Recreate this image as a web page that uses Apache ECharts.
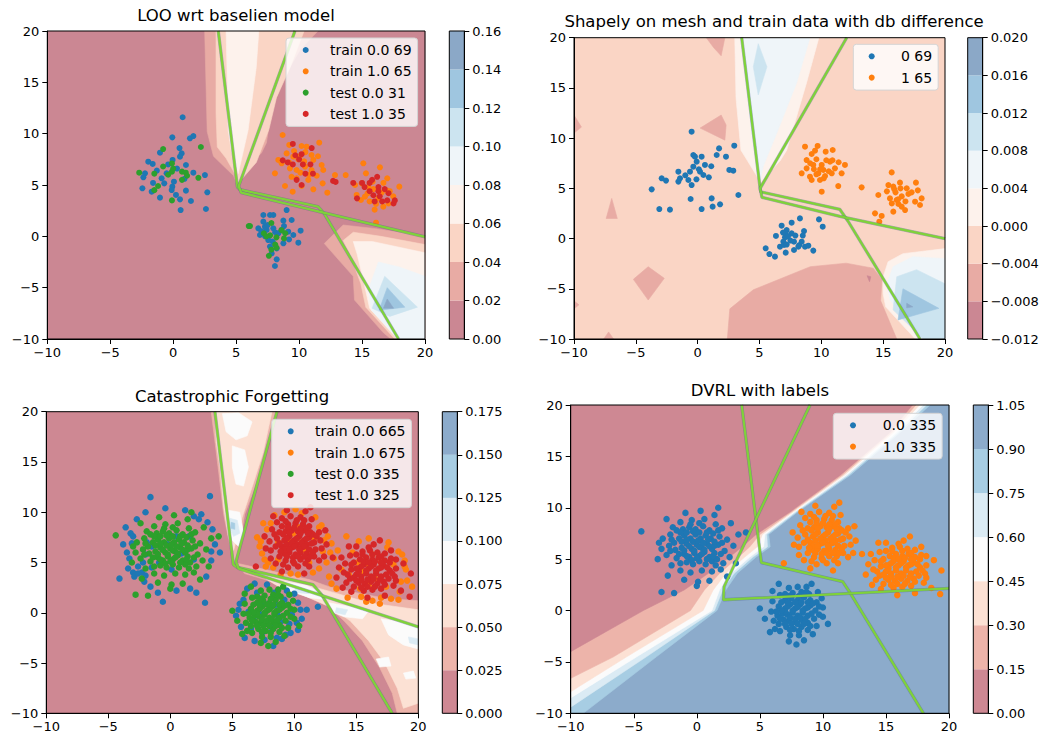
<!DOCTYPE html>
<html><head><meta charset="utf-8">
<script src="https://cdn.jsdelivr.net/npm/echarts@6.0.0/dist/echarts.min.js"></script>
<style>html,body{margin:0;padding:0;background:#fff}#c{width:1042px;height:736px}</style>
</head><body><div id="c"></div>
<script>
// ---------- axis ticks ----------
const mainTicks = [-10, -5, 0, 5, 10, 15, 20];
const tlLevels = [0, 0.02, 0.04, 0.06, 0.08, 0.10, 0.12, 0.14, 0.16];
const trLevels = [-0.012, -0.008, -0.004, 0, 0.004, 0.008, 0.012, 0.016, 0.020];
const blLevels = [0, 0.025, 0.05, 0.075, 0.1, 0.125, 0.15, 0.175];
const brLevels = [0, 0.15, 0.3, 0.45, 0.6, 0.75, 0.9, 1.05];
const tlStep = 0.02, trStep = 0.004, blStep = 0.025, brStep = 0.15;

// ---------- titles / legend labels ----------
const titles = ['LOO wrt baselien model', 'Shapely on mesh and train data with db difference', 'Catastrophic Forgetting', 'DVRL with labels'];
const tlNames = ['train 0.0 69', 'train 1.0 65', 'test 0.0 31', 'test 1.0 35'];
const trNames = ['0 69', '1 65'];
const blNames = ['train 0.0 665', 'train 1.0 675', 'test 0.0 335', 'test 1.0 325'];
const brNames = ['0.0 335', '1.0 335'];

// ---------- scatter data: top-left ----------
const tlTrain0 = [[0.75,11.6],[-0.07,9.64],[1.33,9.55],[1.6,9.77],[0.67,8.08],[0.54,7.76],[-1.05,8.15],[-1.98,7.27],[-1.63,7.05],[1.01,6.95],[2.52,5.97],[2.71,4.29],[2.6,2.66],[1.41,3.44],[0.54,3.6],[0.59,2.56],[-1.05,3.77],[-2.45,4.68],[-2.24,6.14],[-2.37,5.75],[-0.71,5.16],[-0.07,4.84],[-0.12,4.51],[0.22,4.03],[1.01,4.45],[-0.52,6.14],[-0.92,5.65],[-1.71,4.35],[-0.05,7.44],[0.06,5.32],
[0.3,6.6],[-1.3,6.4],[0.9,5.6],[-0.4,7.0],[1.6,6.2],[-1.6,5.2],[0.5,8.6],
[7.16,2.08],[7.69,2.08],[7.95,2.08],[9.01,2.56],[9.41,1.59],[8.75,1.53],[6.76,0.78],[7.16,1.43],[7.42,0.62],[7.95,0.78],[6.89,0.13],[8.35,0.29],[9.14,0.45],[9.54,0.13],[10.12,0.55],[9.94,-0.62],[7.69,-1.0],[8.22,-1.17],[7.82,-1.66],[8.22,-2.24],[8.08,-2.89],[7.55,-0.36],[8.75,-0.68],[7.29,0.94],[8.61,0.62],
[7.5,1.1],[8.1,0.4],[7.3,0.0],[8.8,1.0],[7.9,-0.5],[9.2,-0.3],[7.0,0.5]];
const tlTrain1 = [[8.69,9.87],[9.22,8.9],[10.2,8.8],[10.6,8.73],[11.6,9.12],[9.01,8.08],[9.54,7.76],[10.07,7.82],[10.99,7.92],[11.13,7.44],[8.35,7.44],[8.61,7.11],[9.94,7.5],[9.27,6.62],[9.8,6.46],[10.47,6.79],[10.99,6.46],[11.79,6.95],[11.92,6.46],[8.08,6.14],[12.85,5.97],[13.7,5.97],[11.87,5.16],[11.13,4.58],[10.2,4.9],[8.88,4.9],[9.49,4.35],[12.24,4.25],[9.8,5.65],[10.73,5.49],
[9.6,8.3],[10.4,7.3],[9.2,7.2],[10.8,6.0],[10.1,6.2],[11.5,7.8],[9.4,5.8],[10.5,8.2],[11.4,5.9],
[15.1,7.11],[16.42,6.72],[15.31,6.14],[14.44,5.0],[14.97,5.16],[15.84,5.32],[17.0,5.65],[17.96,4.84],[16.55,4.25],[15.44,4.19],[14.91,3.54],[14.57,4.03],[16.11,3.15],[16.11,1.33],[17.48,3.9],[16.95,4.48],[15.23,3.86],[16.69,2.89],
[15.9,4.6],[16.3,3.7],[15.6,3.4],[17.2,4.4],[16.7,5.2],[15.5,4.8],[17.1,3.2],[16.0,2.6]];
const tlTest0 = [[-0.8,8.5],[2.2,8.7],[-2.7,6.2],[-1.5,6.1],[-0.8,6.8],[-0.1,7.1],[0.0,6.6],[-0.1,6.3],[0.7,6.3],[1.1,5.9],[0.7,5.5],[2.0,5.7],[-1.2,4.9],[-1.5,4.5],[-0.1,3.5],[-0.4,6.0],[1.0,6.2],
[6.0,1.0],[6.1,1.0],[7.8,1.3],[7.2,0.3],[7.7,0.1],[8.2,-0.1],[8.9,0.3],[8.8,-0.2],[8.1,-0.8],[8.2,-1.1],[7.6,-1.9],[7.8,-1.3],[7.4,0.0],[8.6,0.6]];
const tlTest1 = [[9.5,9.0],[10.2,8.0],[11.0,8.6],[8.7,7.4],[9.1,7.2],[9.5,7.0],[10.3,7.0],[10.9,7.0],[10.5,6.1],[11.1,6.1],[9.8,5.5],[10.2,5.0],[12.7,5.4],[12.9,5.3],[10.0,7.5],[9.7,7.9],
[14.3,5.2],[15.0,5.2],[15.6,5.2],[16.2,5.8],[15.8,5.5],[15.2,4.8],[16.3,4.8],[16.8,4.6],[17.1,4.2],[14.6,3.7],[15.9,4.0],[16.4,3.9],[16.6,3.4],[17.0,3.5],[17.5,3.2],[17.6,3.5],[16.0,3.4],[16.3,4.4],[15.6,4.4]];

// ---------- scatter data: top-right ----------
const trClass0 = [[-0.49,10.64],[-0.35,8.32],[-0.22,8.15],[0.32,8.15],[1.73,8.98],[1.54,8.32],[2.29,8.15],[2.96,9.25],[-0.08,7.66],[0.59,7.33],[-0.35,7.16],[-0.62,6.66],[0.19,6.66],[0.46,6.33],[-1.56,6.66],[-1.43,6.0],[-0.75,5.83],[-0.49,5.33],[-2.91,6.0],[-2.56,5.77],[-1.56,5.67],[-3.72,4.9],[2.56,6.83],[2.88,6.76],[3.29,4.34],[-0.57,3.94],[1.13,4.0],[1.81,3.41],[1.21,3.18],[0.32,2.94],[-3.1,2.94],[-2.24,2.88],
[0.1,6.9],[-1.0,6.3],[1.1,7.2],[-0.1,5.9],[0.9,6.1],
[6.79,1.28],[7.6,1.58],[8.27,2.01],[9.81,1.91],[10.11,1.18],[7.2,0.85],[7.12,0.52],[8.6,0.75],[7.06,0.12],[7.6,0.52],[6.33,0.26],[7.79,-0.31],[6.93,-0.31],[8.41,-0.31],[8.22,-0.64],[8.68,-0.81],[8.95,-0.71],[9.35,-1.2],[5.5,-0.97],[5.8,-1.54],[6.25,-1.8],[7.12,-1.4],[7.79,-1.14],[8.14,-0.81],[6.66,-0.81],[6.98,-0.64],
[7.3,0.2],[7.5,-0.2],[7.9,0.3],[7.2,-0.6],[8.5,0.3],[6.9,0.6]];
const trClass1 = [[8.68,9.15],[9.7,9.22],[9.49,8.75],[9.22,8.42],[10.35,8.65],[10.92,8.82],[8.81,7.82],[9.35,7.33],[10.03,7.33],[10.7,7.66],[11.1,6.99],[11.91,7.33],[11.64,6.5],[8.41,6.5],[9.08,6.16],[9.76,6.5],[10.3,6.23],[10.84,6.5],[11.37,5.23],[10.03,4.67],[8.81,6.99],[10.16,6.83],[9.89,5.83],[9.22,5.83],
[15.69,6.59],[13.26,5.1],[14.61,4.34],[15.42,5.33],[15.82,5.17],[16.36,5.57],[16.9,5.0],[17.65,5.57],[15.55,4.0],[16.09,3.84],[16.5,3.18],[17.04,4.44],[17.58,3.67],[18.11,4.0],[17.98,3.34],[14.34,2.51],[14.88,2.25],[14.69,1.68],[15.82,2.68],[16.77,2.84],[16.23,3.44],
[9.6,7.9],[10.4,7.8],[9.9,6.9],[10.6,6.7],[9.4,6.9],[11.4,7.6],[9.1,7.5],[10.9,7.8],[10.2,6.0],[9.6,6.4],
[16.0,4.6],[16.5,4.2],[15.9,4.9],[16.8,3.7],[15.3,4.7],[17.3,4.6],[15.7,3.5],[16.4,5.0],[17.8,4.8],[16.2,3.9]];

// ---------- scatter data: bottom-left (bottom-right reuses the test sets) ----------
const blTrain0 = [[-1.6,11.5],[3.2,11.6],[-0.4,10.4],[1.2,10.2],[-2.0,10.0],[2.5,9.8],[-2.7,9.3],[1.9,9.6],[-3.6,8.5],[-3.2,7.9],[-3.8,6.8],[-3.5,6.0],[-3.3,5.4],[-4.1,3.4],[-3.4,4.4],[-3.0,4.0],[-2.6,4.6],[-2.9,3.6],[-2.3,4.0],[-2.1,3.1],[-1.6,2.6],[-1.0,2.0],[-0.6,1.1],[0.5,2.2],[1.6,2.4],[2.1,2.0],[2.8,1.0],[2.9,3.6],[3.3,5.2],[4.0,6.0],[3.4,8.3],[3.0,9.0],[3.6,6.8],
[-1.5,6.6],[-0.2,6.8],[0.9,5.9],[-0.9,5.0],[0.5,7.6],[1.5,7.6],[-1.9,7.0],[-2.2,5.0],[1.9,5.3],[0.1,4.3],[-1.5,4.5],[-2.0,5.8],[-2.6,3.9],[-2.0,3.7],[-3.1,6.9],[2.3,9.3],[3.3,6.1],[-3.0,7.6],
[6.8,2.9],[7.8,2.8],[5.6,0.9],[5.3,-0.3],[5.7,-1.4],[6.0,-2.5],[6.8,-2.8],[7.6,-2.7],[8.3,-3.3],[9.0,-2.6],[9.7,-2.0],[10.2,-1.0],[10.5,0.3],[11.0,0.3],[11.9,0.6],[10.3,1.0],[10.0,1.9],[9.4,2.2],[6.2,2.4],
[7.6,0.9],[8.7,-0.3],[7.2,-0.1],[8.1,-1.4],[9.2,1.3],[6.7,-0.6],[8.9,-0.9],[7.4,-2.0],[9.8,-0.2],[6.3,0.1],[8.5,0.8],[6.5,-1.6],[9.6,-1.1],[7.0,2.0],[8.4,2.0],[5.9,1.3],[10.3,-1.7],[9.3,-2.2],[8.6,-2.5],[10.6,-0.6],[5.5,0.3]];
const blTrain1 = [[7.2,6.6],[7.5,8.9],[7.0,7.5],[7.4,5.9],[7.9,5.0],[8.1,8.9],[8.4,9.7],[9.2,10.0],[10.1,10.3],[10.6,9.9],[11.7,9.5],[12.2,8.7],[12.7,7.6],[13.0,6.9],[12.9,6.0],[12.6,5.0],[12.0,4.4],[11.5,4.0],[10.3,3.8],[9.7,3.9],[8.9,3.8],[8.3,4.5],[7.7,4.6],
[9.9,7.9],[10.6,7.0],[9.4,6.3],[10.9,6.2],[9.7,7.0],[10.4,8.5],[11.6,7.4],[8.7,7.0],[11.2,5.0],[8.7,5.3],[12.3,6.1],[12.0,8.5],[7.3,7.1],[7.6,5.3],[7.8,8.3],[12.4,7.2],
[14.2,7.6],[15.2,7.1],[16.0,7.4],[17.6,7.0],[18.4,6.1],[18.9,5.2],[19.0,4.3],[19.1,3.2],[18.4,1.3],[16.9,0.9],[15.4,1.6],[14.3,1.5],[13.0,2.9],[12.8,3.6],[13.2,5.4],[13.5,6.2],[17.8,1.4],[16.3,1.2],[19.5,2.6],
[15.9,4.9],[16.5,3.4],[15.5,4.1],[17.0,5.0],[16.0,2.7],[17.4,2.6],[15.1,5.0],[14.4,3.8],[18.0,4.8],[17.5,6.5],[14.7,6.0],[18.6,3.1],[15.3,2.4],[16.3,5.8],[13.8,4.3],[18.7,5.8],[18.9,4.6],[18.5,2.1],[17.0,1.5],[15.8,1.1],[13.4,2.4]];
const blTest0 = [[-1.2,6.1],[-0.8,6.5],[-0.4,6.0],[0.0,6.4],[0.4,6.1],[0.8,6.5],[1.2,6.0],
[-1.0,5.5],[-0.6,5.2],[-0.2,5.6],[0.2,5.3],[0.6,5.7],[1.0,5.2],[1.4,5.6],
[-1.4,7.0],[-1.0,7.3],[-0.5,7.0],[-0.1,7.4],[0.3,7.0],[0.7,7.3],[1.1,7.0],
[-0.8,4.7],[-0.3,4.5],[0.2,4.8],[0.7,4.5],[1.2,4.8],
[-1.1,7.9],[-0.6,8.1],[-0.1,7.9],[0.5,8.2],[1.0,7.8],
[-1.7,5.9],[-1.8,6.6],[1.7,6.4],[1.8,7.2],[1.6,5.0],[-1.6,5.1],
[-2.2,6.3],[-2.1,7.4],[-2.4,5.4],[2.2,5.8],[2.4,6.9],[2.1,4.6],[-2.0,4.4],
[-1.3,8.6],[-0.4,8.8],[0.6,8.9],[1.5,8.4],[2.0,8.0],[-1.9,8.1],
[-1.3,3.9],[-0.5,3.7],[0.4,3.9],[1.2,3.8],[1.9,4.0],
[-2.8,6.0],[2.9,6.3],[2.6,5.2],[-2.7,7.0],
[-0.9,9.5],[0.3,9.7],[1.4,9.3],[-2.4,8.9],[2.7,8.5],[3.3,7.4],[-3.1,5.0],[3.1,4.6],
[-1.0,3.0],[0.1,2.8],[1.0,2.9],[0.0,2.4],[-2.3,3.4],[2.4,3.3],[-3.0,6.6],
[-4.4,7.7],[-2.8,1.8],[-1.8,1.7],[3.9,7.6],[1.7,10.0],
[-1.0,5.85],[-0.6,6.25],[-0.2,5.8],[0.2,6.2],[0.6,5.9],[1.0,6.25],[1.4,6.3],
[-0.8,5.3],[-0.4,4.9],[0.0,5.1],[0.4,5.5],[0.8,5.0],[1.3,5.3],
[-1.2,6.7],[-0.8,6.9],[-0.3,6.7],[0.1,6.8],[0.5,6.6],[0.9,6.9],[1.4,6.7],
[-1.3,7.6],[-0.8,7.6],[-0.3,7.7],[0.2,7.6],[0.8,7.6],[1.3,7.5],
[-1.4,5.5],[-1.3,4.6],[1.5,4.4],[-0.5,8.4],[0.2,8.5],[-1.6,7.8],[1.7,7.8],[-2.0,6.9],[2.0,6.6],[-2.1,5.8],[1.9,5.5],
[7.0,0.2],[7.4,0.6],[7.8,0.2],[8.2,0.6],[8.6,0.2],[9.0,0.5],
[7.2,-0.4],[7.6,-0.2],[8.0,-0.5],[8.4,-0.2],[8.8,-0.5],[6.8,-0.3],
[7.0,1.0],[7.5,1.2],[8.0,1.0],[8.5,1.3],[9.0,1.0],
[7.3,-1.0],[7.8,-1.1],[8.3,-0.9],[8.8,-1.2],[6.9,-0.9],
[6.5,0.4],[6.4,-0.5],[9.4,0.0],[9.5,0.8],[9.3,-0.8],
[7.6,1.7],[8.3,1.8],[8.9,1.6],[7.0,1.6],
[7.1,-1.6],[7.7,-1.8],[8.3,-1.6],[8.8,-1.9],[6.5,-1.3],[9.5,-1.5],
[6.0,0.9],[5.9,-0.1],[6.1,-1.0],[10.0,0.3],[10.0,-0.6],[9.9,1.2],
[6.6,1.5],[9.6,1.8],[8.0,2.3],[7.3,2.2],[8.7,2.3],
[7.4,-2.4],[8.1,-2.4],[6.6,-2.0],[9.2,-2.3],[6.2,-1.8],
[5.0,0.2],[5.4,-0.8],[6.0,1.9],[9.1,2.6],[6.5,2.6],[10.4,-1.3],[7.3,-3.0],[8.5,-2.9],[5.8,-2.1],[7.9,-3.3],
[7.2,0.4],[7.6,0.0],[8.0,0.35],[8.4,0.0],[8.8,0.3],[7.0,-0.1],
[7.4,-0.7],[7.8,-0.8],[8.2,-0.7],[8.6,-0.8],[9.1,-0.3],[6.7,0.0],
[7.2,0.8],[7.8,0.8],[8.3,0.8],[8.8,0.8],[9.2,0.7],
[7.5,-1.3],[8.0,-1.3],[8.5,-1.3],[7.0,-1.3],[6.7,0.8],[6.6,-0.8],[9.7,0.4],[9.7,-0.4],
[7.3,1.4],[8.1,1.4],[8.7,1.8],[7.4,-1.9],[8.1,-2.0],[9.0,-1.5],[6.3,-0.1]];
const blTest1 = [[9.2,7.2],[9.6,7.6],[10.0,7.2],[10.4,7.6],[10.8,7.2],[11.2,7.5],
[9.0,6.6],[9.4,6.8],[9.8,6.5],[10.2,6.8],[10.6,6.5],[11.0,6.8],
[9.3,8.1],[9.8,8.2],[10.3,8.1],[10.8,8.2],[11.3,8.0],
[9.2,5.9],[9.6,6.0],[10.1,5.8],[10.5,6.0],[11.0,5.9],
[8.6,7.4],[8.5,6.6],[8.8,8.0],[11.6,7.0],[11.7,6.3],[11.5,7.8],
[9.5,8.8],[10.1,8.9],[10.7,8.8],[11.2,8.6],[9.0,8.6],
[9.3,5.2],[9.9,5.1],[10.5,5.3],[11.1,5.3],[8.8,5.6],[11.6,5.6],
[8.0,7.1],[8.1,6.2],[8.2,8.3],[12.1,7.2],[12.2,6.4],[12.0,8.0],
[9.0,9.4],[9.7,9.6],[10.5,9.5],[11.4,9.3],[8.6,9.0],
[8.5,4.9],[9.5,4.5],[10.3,4.6],[11.2,4.6],[12.0,5.2],
[7.6,7.6],[7.7,6.4],[8.1,5.4],[12.6,6.8],[12.4,5.6],[12.5,8.2],[10.9,10.1],[9.4,10.2],[11.3,10.5],[9.0,4.1],[10.8,3.9],[8.3,9.6],[6.9,4.6],[13.1,5.5],
[9.4,7.4],[9.8,7.0],[10.2,7.4],[10.6,7.0],[11.0,7.4],[9.2,6.3],
[9.6,6.3],[10.0,6.6],[10.4,6.3],[10.8,6.6],[11.2,6.3],
[9.5,8.5],[10.0,8.5],[10.5,8.4],[11.0,8.4],[9.1,7.8],[9.6,8.0],[10.5,7.9],[11.1,7.9],
[9.4,5.6],[9.9,5.5],[10.3,5.6],[10.8,5.6],[11.3,5.6],[8.8,6.9],[11.4,6.9],[11.5,6.0],[8.9,6.1],
[8.4,7.8],[11.8,7.6],[10.2,9.2],[9.3,9.1],[10.8,9.2],[10.0,4.9],[10.9,4.9],[9.1,4.8],
[15.2,4.4],[15.6,4.8],[16.0,4.4],[16.4,4.8],[16.8,4.4],[17.2,4.7],
[15.0,3.8],[15.4,3.6],[15.8,3.9],[16.2,3.6],[16.6,3.9],[17.0,3.6],
[15.3,5.3],[15.8,5.5],[16.3,5.3],[16.8,5.5],[17.3,5.2],
[15.2,3.0],[15.7,2.9],[16.2,3.1],[16.7,2.9],[17.2,3.1],
[14.6,4.3],[14.5,3.4],[14.8,5.0],[17.7,4.2],[17.6,3.4],[17.7,5.0],
[15.5,6.1],[16.1,6.2],[16.7,6.0],[15.0,5.8],[17.3,5.9],
[15.6,2.2],[16.3,2.3],[17.0,2.4],[14.8,2.6],
[14.0,4.0],[14.1,4.9],[14.2,3.0],[18.2,4.4],[18.1,3.6],[18.2,5.3],
[14.5,5.7],[15.0,6.6],[16.4,6.8],[17.8,6.2],[14.6,2.1],[18.0,2.7],
[13.6,4.5],[13.4,3.5],[13.8,5.5],[18.8,4.9],[19.4,3.9],[19.3,1.6],[18.6,2.2],[15.9,1.5],[17.3,1.7],[16.9,7.2],[14.4,6.6],[13.9,2.5],
[15.4,4.6],[15.8,4.2],[16.2,4.6],[16.6,4.2],[17.0,4.5],[15.2,4.1],
[15.6,5.1],[16.0,5.0],[16.5,5.1],[17.0,5.0],[17.5,4.5],
[15.4,3.3],[15.9,3.3],[16.4,3.4],[16.9,3.3],[17.4,3.8],
[15.0,4.4],[14.8,3.5],[17.9,3.9],[15.5,5.8],[16.3,5.8],[17.0,5.6],[15.0,3.2],
[15.9,2.6],[16.5,2.6],[17.3,2.8],[14.6,4.8],[17.8,5.4],[14.3,3.8],[18.2,3.2],[16.0,6.5],[15.4,2.5]];
const brClass0 = blTest0;
const brClass1 = blTest1;

// ---------- decision boundaries (data coords) ----------
const tlLines = [[[3.58,20],[5.1,4.8],[5.3,4.55],[11.5,2.9],[12.0,2.2],[17.9,-10]],
                 [[9.67,20],[5.2,4.9],[5.4,4.25],[11.6,2.4],[20,-0.05]]];
const trLines = [[[3.56,20],[5.04,5.1],[5.1,4.65],[11.5,2.9],[12.15,1.75],[17.98,-10]],
                 [[12.05,20],[5.05,5.0],[5.2,4.1],[11.5,2.2],[20,0.0]]];
const blLines = [[[3.6,20],[5.08,4.8],[5.35,4.55],[11.5,2.8],[12.2,1.8],[17.9,-10]],
                 [[8.6,20],[5.3,5.1],[5.5,4.4],[11.5,2.0],[20,-1.4]]];
const brLines = [[[3.56,20],[5.12,4.66],[11.57,2.81],[12.15,1.74],[17.97,-10]],
                 [[8.98,20],[2.16,2.32],[2.11,1.05],[20,2.16]]];

// ---------- contour regions (band index, polygon in data coords) ----------
const FULL = [[-10,-10],[20,-10],[20,20],[-10,20]];
const tlRegions = [
 {band:0, pts:FULL},
 {band:1, pts:[[2.5,20],[11.5,20],[10.1,18.2],[8.8,15.5],[7.8,12.3],[7.4,9.1],[7.0,8.1],[6.2,7.3],[5.3,5.8],[5.1,4.9],[4.8,5.9],[3.2,7.8],[2.7,10.2]]},
 {band:2, pts:[[3.4,20],[10.4,20],[9.3,16.5],[8.2,13.5],[7.6,10.4],[6.6,7.2],[5.4,5.5],[5.1,5.2],[4.9,6.1],[4.2,7.6],[3.5,8.7],[3.4,12]]},
 {band:3, pts:[[4.2,20],[6.8,20],[6.6,16.5],[5.95,10.35],[5.16,6.1],[4.6,8.5],[4.37,10.35],[4.3,15]]},
 {band:1, pts:[[12.0,-0.7],[13.5,1.1],[16.1,0.75],[20,0.0],[20,-10],[17.3,-10],[16.7,-9.4],[14.4,-6.2],[14.3,-3.9]]},
 {band:2, pts:[[13.5,-0.4],[14.3,0.4],[16.5,0.0],[20,-0.8],[20,-10],[17.6,-10],[15.3,-6.9],[14.9,-4.6],[14.0,-1.6]]},
 {band:3, pts:[[14.3,-0.5],[15.8,-0.5],[20,-1.6],[20,-10],[17.8,-10],[15.6,-7.0],[15.1,-4.2],[14.6,-1.7]]},
 {band:4, pts:[[16.3,-2.5],[18.0,-3.0],[20,-3.9],[20,-10],[17.9,-10],[15.75,-7.2],[15.5,-5.2]]},
 {band:5, pts:[[16.8,-3.9],[19.4,-6.9],[17.2,-7.8],[15.8,-7.0]]},
 {band:6, pts:[[17.0,-5.0],[18.4,-6.9],[16.35,-7.2]]},
 {band:7, pts:[[17.0,-6.1],[17.5,-7.0],[16.7,-7.0]]}
];
const trRegions = [
 {band:2, pts:FULL},
 {band:1, pts:[[0.7,20],[2.2,20],[1.9,18.2],[1.3,19.0]]},
 {band:1, pts:[[-10,12.3],[-9.4,11.1],[-10,10.5]]},
 {band:1, pts:[[0.2,11.0],[1.9,12.3],[2.3,11.3],[2.2,9.8]]},
 {band:1, pts:[[-6.95,4.0],[-6.5,2.0],[-7.4,2.0]]},
 {band:1, pts:[[-5.2,-4.06],[-4.0,-2.8],[-2.7,-3.96],[-4.0,-6.12]]},
 {band:1, pts:[[2.4,-10],[2.6,-7.0],[4.5,-5.1],[6.7,-4.0],[9.1,-2.8],[12.0,-2.45],[14.2,-2.95],[14.9,-4.1],[14.8,-6.2],[16.1,-10]]},
 {band:1, pts:[[-7.6,-10],[-7.2,-9.3],[-6.8,-10]]},
 {band:1, pts:[[-10,-6.2],[-9.6,-6.6],[-10,-7.0]]},
 {band:0, pts:[[13.7,-3.7],[14.0,-3.8],[13.9,-4.3]]},
 {band:3, pts:[[3.0,20],[9.8,20],[8.8,15.5],[7.2,8.8],[6.7,7.8],[5.1,5.6],[4.9,6.0],[3.5,8.8],[3.1,14]]},
 {band:4, pts:[[3.75,20],[9.08,20],[8.0,15.5],[6.4,10.5],[5.3,7.2],[5.05,5.8],[4.8,7.5],[4.37,10.5],[4.0,15]]},
 {band:5, pts:[[4.9,19.4],[5.6,17.1],[4.9,14.3],[4.5,17.1]]},
 {band:3, pts:[[15.0,-3.8],[15.4,-2.3],[16.6,-1.5],[20,-1.0],[20,-10],[17.6,-10],[15.2,-6.8],[15.0,-5.5]]},
 {band:4, pts:[[15.8,-2.8],[17.4,-1.8],[20,-2.0],[20,-10],[18.0,-10],[15.55,-6.1],[15.3,-4.5]]},
 {band:5, pts:[[16.1,-3.8],[17.7,-3.1],[20,-4.5],[20,-10],[18.25,-10],[15.8,-7.1]]},
 {band:6, pts:[[16.6,-5.0],[19.5,-6.95],[16.2,-8.1]]},
 {band:7, pts:[[16.9,-6.45],[17.4,-6.8],[16.9,-6.9]]}
];
const blRegions = [
 {band:0, pts:FULL},
 {band:1, pts:[[3.3,20],[8.6,20],[7.8,16.4],[7.0,13.1],[6.0,9.8],[5.6,6.8],[5.2,5.0],[4.9,6.1],[4.3,9.8],[3.9,14.0]]},
 {band:2, pts:[[3.6,20],[8.2,20],[7.5,16],[6.6,12.5],[5.8,9.5],[5.4,7.5],[5.1,6.2],[4.7,7.5],[4.3,10.5],[4.0,14.5],[3.7,17]]},
 {band:3, pts:[[4.2,19.8],[5.5,19.9],[6.6,19.0],[6.2,17.6],[5.3,17.2],[4.5,18.0]]},
 {band:3, pts:[[5.0,16.6],[6.0,16.2],[6.3,14.5],[5.9,12.6],[5.3,12.8],[5.0,14.5]]},
 {band:3, pts:[[4.7,10.2],[5.6,10.0],[5.9,8.0],[5.5,6.6],[5.0,7.2],[4.7,8.8]]},
 {band:4, pts:[[4.8,9.4],[5.4,9.2],[5.6,7.9],[5.1,7.6],[4.8,8.4]]},
 {band:5, pts:[[4.9,9.0],[5.2,8.9],[5.2,8.3],[4.9,8.4]]},
 {band:1, pts:[[5.3,4.95],[8.0,4.2],[11.2,3.3],[12.8,2.6],[15.0,2.0],[17.5,1.4],[20,1.2],[20,-10],[18.3,-10],[17.9,-8],[16.9,-5.5],[15.5,-2.8],[14.0,-0.8],[12.6,0.8],[11.0,2.0],[9.0,2.8],[6.0,3.9]]},
 {band:2, pts:[[6.5,4.3],[9.0,3.4],[11.5,2.6],[13.5,1.9],[16,1.0],[20,0.3],[20,-9.0],[18.8,-9.5],[18.3,-7.5],[17.3,-5.0],[16.0,-2.8],[14.5,-0.8],[13.0,0.5],[11.0,1.6],[9.0,2.4]]},
 {band:3, pts:[[9.2,3.1],[11.0,2.7],[12.0,2.1],[12.5,1.3],[11.2,1.5],[9.5,2.3]]},
 {band:3, pts:[[12.8,1.0],[14.5,0.6],[16.0,0.2],[15.5,-0.6],[14.0,-0.4],[13.2,0.0]]},
 {band:3, pts:[[17.0,-0.6],[18.5,-0.9],[20,-1.5],[20,-3.6],[18.8,-3.2],[17.6,-2.2]]},
 {band:3, pts:[[16.6,-4.6],[17.6,-4.4],[17.8,-5.3],[16.9,-5.4]]},
 {band:3, pts:[[18.8,-6.0],[19.6,-5.8],[19.8,-6.5],[19.0,-6.6]]},
 {band:4, pts:[[10.0,2.6],[11.0,2.3],[11.2,1.9],[10.2,2.0]]},
 {band:4, pts:[[13.4,0.5],[14.3,0.3],[14.1,-0.2],[13.3,0.0]]},
 {band:4, pts:[[19.2,-2.4],[20,-2.6],[20,-3.2],[19.3,-3.0]]}
];
// DVRL contour level boundaries (0.15 ... 0.90), each from the left/bottom edge to the top edge
const brBounds = [
 [[-10,-4.0],[-4.24,0],[-1.0,2.0],[0.9,3.6],[2.6,5.2],[3.6,6.2],[4.7,7.4],[7.4,9.6],[11.4,13.2],[15.3,17.3],[17.1,20]],
 [[-10,-6.6],[-6.6,-4.5],[-0.5,0],[0.6,2.0],[1.8,3.6],[3.3,5.2],[4.2,6.2],[5.0,7.4],[7.52,9.6],[11.56,13.2],[15.46,17.3],[17.38,20]],
 [[-10,-7.9],[-5.56,-4.5],[0.5,0],[1.3,2.0],[2.3,3.6],[3.8,5.2],[4.8,6.2],[5.2,7.4],[7.64,9.6],[11.72,13.2],[15.62,17.3],[17.66,20]],
 [[-10,-8.5],[-4.76,-4.5],[1.2,0],[1.8,2.0],[2.7,3.6],[4.2,5.2],[5.3,6.2],[5.4,7.4],[7.76,9.6],[11.88,13.2],[15.78,17.3],[17.94,20]],
 [[-10,-9.4],[-4.0,-4.5],[1.4,0],[2.05,2.0],[2.95,3.6],[4.45,5.2],[5.6,6.2],[5.55,7.4],[7.88,9.6],[12.04,13.2],[15.94,17.3],[18.22,20]],
 [[-9.0,-10],[-3.2,-4.5],[1.6,0],[2.3,2.0],[3.2,3.6],[4.7,5.2],[5.82,6.2],[5.7,7.4],[8.0,9.6],[12.2,13.2],[16.1,17.3],[18.5,20]]
];

// ---------- colours (RdBu, alpha 0.5 on white) ----------
const rdbu8 = ['#cb8793','#e8aba4','#fad5c5','#fdf2ec','#eff5f9','#cce4f0','#9fc6e0','#8ba8c7'];
const rdbu7 = ['#ce8893','#edb4aa','#fce1d4','#fbfbfb','#dbebf4','#a7cde3','#8cabcb'];
const C_BLUE = '#1f77b4', C_ORANGE = '#ff7f0e', C_GREEN = '#2ca02c', C_RED = '#d62728';
const LINE_GREEN = '#7fd23a', LINE_DARK = '#4b5f8e';
const FONT = '"DejaVu Sans", sans-serif';

const brRegions = [{band:6, pts:FULL}].concat(
  brBounds.slice().reverse().map((k, j) => ({
    band: 5 - j,
    pts: [[-10,20]].concat(k[0][1] === -10 ? [[-10,-10]] : []).concat(k)
  })));

const panels = [
 {title:titles[0], tx:236, ty:17, grid:{left:47.3, top:31, width:377.7, height:308},
  cb:{left:449.3, top:31, width:15, height:308}, levels:tlLevels, step:tlStep, dec:2, colors:rdbu8,
  regions:tlRegions, lines:tlLines, dot:6,
  scatter:[[tlNames[0], tlTrain0, C_BLUE],[tlNames[1], tlTrain1, C_ORANGE],[tlNames[2], tlTest0, C_GREEN],[tlNames[3], tlTest1, C_RED]],
  legend:{left:286, top:38, padLeft:16.7, textPad:16.3}},
 {title:titles[1], tx:774, ty:23, grid:{left:574, top:37.7, width:371, height:301.3},
  cb:{left:967.7, top:37.7, width:15, height:301.3}, levels:trLevels, step:trStep, dec:3, colors:rdbu8,
  regions:trRegions, lines:trLines, dot:6,
  scatter:[[trNames[0], trClass0, C_BLUE],[trNames[1], trClass1, C_ORANGE]],
  legend:{left:853.3, top:44.3, padLeft:15.4, textPad:21.3}},
 {title:titles[2], tx:232, ty:397.7, grid:{left:46.3, top:411.7, width:372, height:301.6},
  cb:{left:442.3, top:411.7, width:15, height:301.6}, levels:blLevels, step:blStep, dec:3, colors:rdbu7,
  regions:blRegions, lines:blLines, dot:6.5,
  scatter:[[blNames[0], blTrain0, C_BLUE],[blNames[1], blTrain1, C_ORANGE],[blNames[2], blTest0, C_GREEN],[blNames[3], blTest1, C_RED]],
  legend:{left:271.7, top:419.3, padLeft:16, textPad:16.3}},
 {title:titles[3], tx:760, ty:391.7, grid:{left:570.7, top:405, width:378.3, height:308.3},
  cb:{left:973.3, top:405, width:15, height:308.3}, levels:brLevels, step:brStep, dec:2, colors:rdbu7,
  regions:brRegions, lines:brLines, dot:6.5,
  scatter:[[brNames[0], brClass0, C_BLUE],[brNames[1], brClass1, C_ORANGE]],
  legend:{left:833.3, top:413.3, padLeft:16.7, textPad:21.7}}
];

function fmtTick(v) { return String(v).replace('-', '\u2212'); }
function cbFmt(dec) { return function (v) { if (Math.abs(v) < 1e-9) v = 0; return v.toFixed(dec).replace('-', '\u2212'); }; }

const axisLineStyle = {show:true, onZero:false, lineStyle:{color:'#000', width:1}};
const tickStyle = {show:true, inside:false, length:5, lineStyle:{color:'#000', width:1}};
const labelBase = {fontFamily:FONT, fontSize:13, color:'#000'};

const grids = [], xAxes = [], yAxes = [], legends = [], titleOpts = [], series = [];
panels.forEach((p, i) => {
  grids[i] = Object.assign({show:true, borderColor:'#000', borderWidth:1, backgroundColor:'transparent', z:6, outerBoundsMode:'none', containLabel:false}, p.grid);
  grids[4 + i] = Object.assign({show:true, borderColor:'#000', borderWidth:1, backgroundColor:'transparent', z:6, outerBoundsMode:'none', containLabel:false}, p.cb);
  xAxes[i] = {type:'value', gridIndex:i, min:mainTicks[0], max:mainTicks[mainTicks.length-1], interval:mainTicks[1]-mainTicks[0], z:7,
    axisLine:axisLineStyle, axisTick:tickStyle, splitLine:{show:false},
    axisLabel:Object.assign({margin:7, formatter:fmtTick, showMinLabel:true, showMaxLabel:true, hideOverlap:false}, labelBase)};
  yAxes[i] = {type:'value', gridIndex:i, min:mainTicks[0], max:mainTicks[mainTicks.length-1], interval:mainTicks[1]-mainTicks[0], z:7,
    axisLine:axisLineStyle, axisTick:tickStyle, splitLine:{show:false},
    axisLabel:Object.assign({margin:8, formatter:fmtTick, showMinLabel:true, showMaxLabel:true, hideOverlap:false}, labelBase)};
  xAxes[4 + i] = {type:'value', gridIndex:4 + i, min:0, max:1, show:false};
  yAxes[4 + i] = {type:'value', gridIndex:4 + i, position:'right', min:p.levels[0], max:p.levels[p.levels.length-1], interval:p.step, z:7,
    axisLine:axisLineStyle, axisTick:tickStyle, splitLine:{show:false},
    axisLabel:Object.assign({margin:8, formatter:cbFmt(p.dec), showMinLabel:true, showMaxLabel:true, hideOverlap:false}, labelBase)};

  titleOpts.push({text:p.title, left:p.tx, top:p.ty - 10, textAlign:'center', padding:0,
    textStyle:{fontFamily:FONT, fontSize:16.5, fontWeight:'normal', color:'#000'}});

  legends.push({show:true, orient:'vertical', left:p.legend.left, top:p.legend.top, z:10,
    padding:[4, 6, 4.5, p.legend.padLeft], itemGap:5.3, itemWidth:6, itemHeight:6, icon:'circle', selectedMode:false,
    backgroundColor:'rgba(255,255,255,0.8)', borderColor:'#d4d4d4', borderWidth:1, borderRadius:3,
    textStyle:{fontFamily:FONT, fontSize:14, color:'#000', lineHeight:16, padding:[0, 0, 0, p.legend.textPad]},
    data:p.scatter.map(s => s[0])});

  // filled contour bands
  const regions = p.regions, colors = p.colors;
  series.push({type:'custom', xAxisIndex:i, yAxisIndex:i, z:1, silent:true, clip:true, animation:false,
    data:regions.map((r, k) => [r.pts[0][0], r.pts[0][1], k]),
    renderItem:function (params, api) {
      const r = regions[params.dataIndex];
      const pts = r.pts.map(q => api.coord(q));
      const c = colors[r.band];
      return {type:'polygon', shape:{points:pts}, style:{fill:c, stroke:c, lineWidth:0.6}};
    }});

  // scatter points
  p.scatter.forEach(s => {
    series.push({type:'scatter', name:s[0], xAxisIndex:i, yAxisIndex:i, data:s[1], symbol:'circle', symbolSize:p.dot, z:3,
      itemStyle:{color:s[2], opacity:1, borderWidth:0}, emphasis:{disabled:true}, silent:true, animation:false, clip:true});
  });

  // decision boundaries
  p.lines.forEach(pl => {
    series.push({type:'line', xAxisIndex:i, yAxisIndex:i, data:pl, showSymbol:false, symbol:'none', z:4, silent:true, clip:true, animation:false,
      lineStyle:{color:LINE_DARK, width:3.3, opacity:0.45}});
    series.push({type:'line', xAxisIndex:i, yAxisIndex:i, data:pl, showSymbol:false, symbol:'none', z:4, silent:true, clip:true, animation:false,
      lineStyle:{color:LINE_GREEN, width:2.3, opacity:1}});
  });

  // colorbar
  const lv = p.levels;
  series.push({type:'custom', xAxisIndex:4 + i, yAxisIndex:4 + i, z:2, silent:true, animation:false,
    data:lv.slice(0, -1).map((v, k) => [0, v, k]),
    renderItem:function (params, api) {
      const k = params.dataIndex;
      const a = api.coord([0, lv[k]]), b = api.coord([1, lv[k + 1]]);
      return {type:'rect', shape:{x:a[0], y:b[1], width:b[0] - a[0], height:a[1] - b[1]}, style:{fill:colors[k]}};
    }});
});

const chart = echarts.init(document.getElementById('c'), null, {renderer:'svg', width:1042, height:736});
chart.setOption({
  animation:false,
  backgroundColor:'#ffffff',
  textStyle:{fontFamily:FONT},
  title:titleOpts,
  grid:grids, xAxis:xAxes, yAxis:yAxes,
  legend:legends,
  series:series
});
</script></body></html>
